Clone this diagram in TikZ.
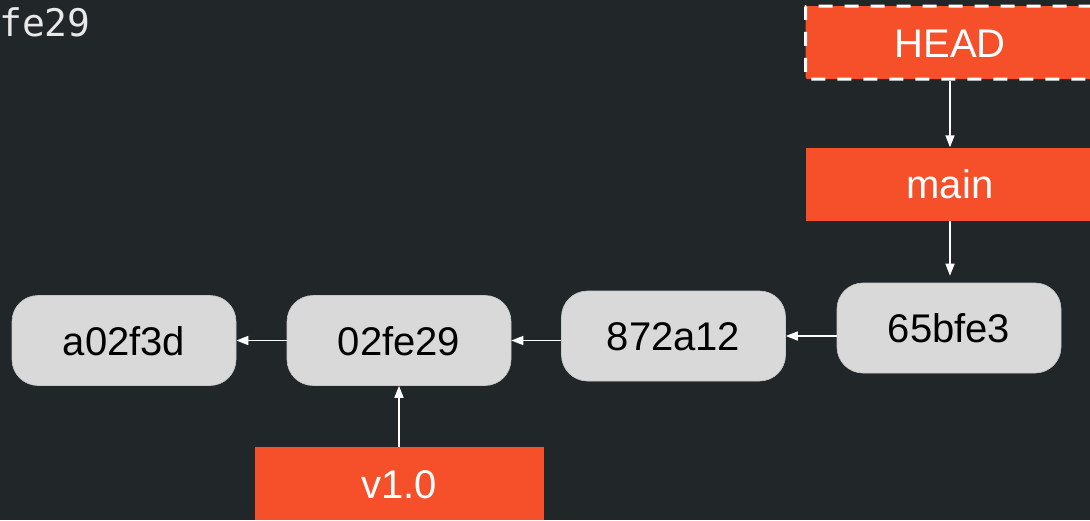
\documentclass[tikz,border=0pt]{standalone}
\usepackage{fontspec}
\setmainfont{Liberation Sans}
\newfontfamily\codefont{DejaVu Sans Mono}
\usetikzlibrary{arrows.meta}

\definecolor{bgdark}{RGB}{33,39,41}
\definecolor{reforange}{RGB}{245,80,41}
\definecolor{commitgray}{RGB}{217,217,217}
\definecolor{cmdtext}{RGB}{232,232,232}

\tikzset{
  commit/.style={fill=commitgray, draw=commitgray!92!black, line width=0.6pt,
    rounded corners=26pt, minimum width=224pt, minimum height=90pt,
    inner sep=0pt, text=black, font=\fontsize{40}{42}\selectfont,
    text height=29pt, text depth=0pt},
  refbox/.style={fill=reforange, minimum width=289pt, minimum height=73pt,
    inner sep=0pt, text=white, font=\fontsize{40}{42}\selectfont,
    text height=29pt, text depth=0pt},
  headbox/.style={refbox, draw=white, line width=3pt,
    dash pattern=on 14pt off 12pt, rounded corners=2pt},
  ptr/.style={draw=white, line width=1.5pt,
    -{Triangle[length=12pt,width=9pt]}},
}

\begin{document}
\begin{tikzpicture}[x=1pt,y=-1pt]
  % canvas
  \fill[bgdark] (0,0) rectangle (1090,520);
  \useasboundingbox (0,0) rectangle (1090,520);

  % command line at the top left
  \node[anchor=base west, inner sep=0pt, text=cmdtext,
        font=\codefont\fontsize{38}{42}\selectfont] (cmd) at (-1,36) {fe29};

  % commits
  \node[commit] (c1) at (124,340.5) {a02f3d};
  \node[commit] (c2) at (399,340.5) {02fe29};
  \node[commit] (c3) at (673.5,336) {872a12};
  \node[commit] (c4) at (949,328) {65bfe3};

  % references
  \node[headbox] (head) at (950,42.5) {HEAD};
  \node[refbox]  (main) at (950,184) {main};
  \node[refbox]  (tag)  at (399,483.5) {v1.0};

  % parent links
  \draw[ptr] (c2.west |- c1.east) -- (c1.east);
  \draw[ptr] (c3.west |- c2.east) -- (c2.east);
  \draw[ptr] (c4.west |- c3.east) -- (c3.east);

  % reference links
  \draw[ptr] (head.south) -- (main.north);
  \draw[ptr, shorten >=7pt] (main.south) -- (main.south |- c4.north);
  \draw[ptr] (tag.north) -- (c2.south);
\end{tikzpicture}
\end{document}
